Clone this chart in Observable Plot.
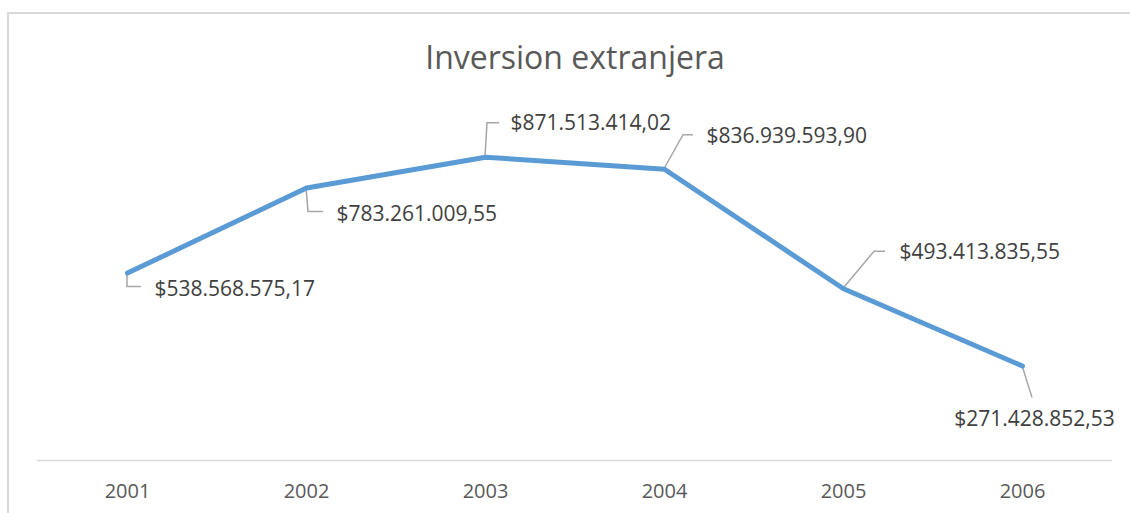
<!DOCTYPE html>
<html>
<head>
<meta charset="utf-8">
<script src="https://cdn.jsdelivr.net/npm/d3@7"></script>
<script src="https://cdn.jsdelivr.net/npm/@observablehq/plot@0.6"></script>
<style>
  html, body { margin: 0; padding: 0; background: #fff; overflow: hidden; }
  #wrap { position: relative; width: 1130px; height: 513px; }
  #border { position: absolute; left: 7px; top: 12px; width: 1200px; height: 600px;
            border-left: 2px solid #d9d9d9; border-top: 2px solid #d9d9d9; pointer-events: none; }
  #chart svg { display: block; }
</style>
</head>
<body>
<div id="wrap"><div id="chart"></div><div id="border"></div></div>
<script>
// ---- data ----
const title = "Inversion extranjera";
const years = ["2001", "2002", "2003", "2004", "2005", "2006"];
const values = [538568575.17, 783261009.55, 871513414.02, 836939593.90, 493413835.55, 271428852.53];

// ---- label layout (pixel offsets from each point: leader path, text offset, anchor) ----
const leaderPaths = [
  [[0, 0], [0, 14], [14, 14]],
  [[0, 0], [2, 24], [17, 24]],
  [[0, 0], [2, -34], [14, -34]],
  [[0, 0], [19, -34], [29, -34]],
  [[0, 0], [31, -37], [42, -37]],
  [[0, 0], [10, 32]]
];
const labelOffsets = [
  {dx: 27, dy: 16, anchor: "start"},
  {dx: 30, dy: 26, anchor: "start"},
  {dx: 25, dy: -34, anchor: "start"},
  {dx: 42, dy: -33, anchor: "start"},
  {dx: 56, dy: -37, anchor: "start"},
  {dx: 12, dy: 53, anchor: "middle"}
];

const data = years.map((y, i) => ({year: y, value: values[i]}));
const locale = d3.formatLocale({decimal: ",", thousands: ".", grouping: [3], currency: ["$", ""]});
const fmt = locale.format("$,.2f");

const font = "'Open Sans', sans-serif";

const leaders = Plot.dot(data, {
  x: "year", y: "value", r: 0,
  render: (index, scales, vals) => {
    const g = d3.create("svg:g");
    for (const i of index) {
      const x0 = vals.x[i], y0 = vals.y[i];
      const pts = leaderPaths[i].map(([a, b]) => [x0 + a, y0 + b]);
      g.append("path")
        .attr("d", d3.line()(pts))
        .attr("fill", "none")
        .attr("stroke", "#a6a6a6")
        .attr("stroke-width", 1.5);
    }
    return g.node();
  }
});

const labels = data.map((d, i) => Plot.text([d], {
  x: "year", y: "value", text: (d) => fmt(d.value),
  dx: labelOffsets[i].dx, dy: labelOffsets[i].dy,
  textAnchor: labelOffsets[i].anchor, lineAnchor: "middle",
  fontSize: 21, fill: "#404040", fontFamily: font
}));

const chart = Plot.plot({
  width: 1130,
  height: 513,
  marginLeft: 37,
  marginRight: 18,
  marginTop: 112,
  marginBottom: 53,
  style: {fontFamily: font, background: "transparent"},
  x: {type: "point", domain: years, padding: 0.5, label: null},
  y: {domain: [0, 1e9], axis: null},
  marks: [
    Plot.ruleY([0], {stroke: "#d9d9d9", strokeWidth: 1.5}),
    Plot.axisX({tickSize: 0, tickPadding: 23, fontSize: 20, fill: "#595959", label: null}),
    leaders,
    Plot.line(data, {x: "year", y: "value", stroke: "#5b9bd5", strokeWidth: 5,
                     strokeLinejoin: "round", strokeLinecap: "round"}),
    ...labels,
    Plot.text([title], {frameAnchor: "top", dy: -54, lineAnchor: "middle",
                        fontSize: 32, fill: "#595959", fontFamily: font})
  ]
});
document.getElementById("chart").appendChild(chart);
</script>
</body>
</html>
